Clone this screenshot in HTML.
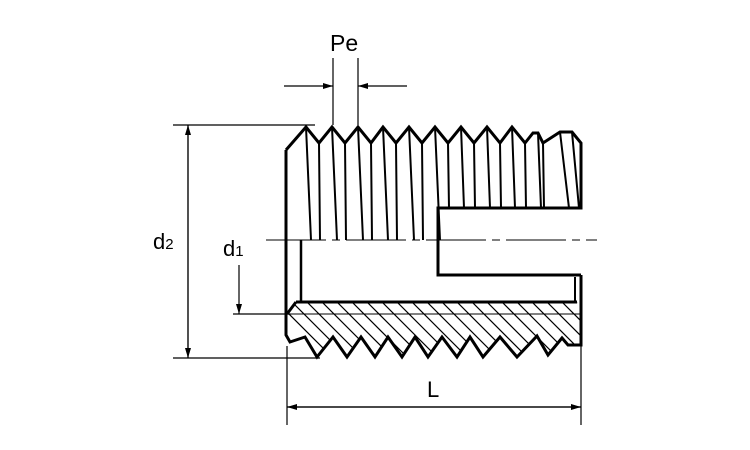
<!DOCTYPE html>
<html><head><meta charset="utf-8"><style>
html,body{margin:0;padding:0;background:#fff;width:750px;height:450px;overflow:hidden}
text{font-family:"Liberation Sans",sans-serif;fill:#000}
</style></head><body>
<svg width="750" height="450" viewBox="0 0 750 450" xmlns="http://www.w3.org/2000/svg">
<defs>
<clipPath id="hc"><polygon points="296,302 577,302 581,314 581,345 568,345 562,338 548,355 537,336 517,357 500,337 483,357 470,337 457,357 442,337 428,357 415,337 402,357 388,337 375,357 361,337 347,357 333,337 317,357 305,337 290,342 286,335 286,315"/></clipPath>
<marker id="a" viewBox="0 0 10 6" refX="10" refY="3" markerWidth="10" markerHeight="6" orient="auto" markerUnits="userSpaceOnUse"><path d="M0,0L10,3L0,6z" fill="#000"/></marker>
</defs>
<g stroke="#000" fill="none">
<g clip-path="url(#hc)" stroke-width="1.2">
<path d="M280,290l80,80M295,290l80,80M310,290l80,80M325,290l80,80M340,290l80,80M355,290l80,80M370,290l80,80M385,290l80,80M400,290l80,80M415,290l80,80M430,290l80,80M445,290l80,80M460,290l80,80M475,290l80,80M490,290l80,80M505,290l80,80M520,290l80,80M535,290l80,80M550,290l80,80M565,290l80,80M265,290l80,80"/>
</g>
<line x1="286" y1="314" x2="581" y2="314" stroke-width="1"/>
<polyline stroke-width="3" points="296,302 287,314"/>
<polyline stroke-width="3" stroke-linejoin="miter" points="286,150 286,335 290,342 305,337 317,357 333,337 347,357 361,337 375,357 388,337 402,357 415,337 428,357 442,337 457,357 470,337 483,357 500,337 517,357 537,336 548,355 562,338 568,345 581,345 581,275"/>
<polyline stroke-width="3" points="286,150 306,127 319,143 332,127 345,143 358,127 371,143 383,127 396,143 409,127 422,143 435,127 448,143 461,127 474,143 487,127 500,143 512,127 525,143 533,133 538,133 543,143 560,132 572,132 581,143 581,208 438,208 438,275 581,275"/>
<line x1="296" y1="302" x2="577" y2="302" stroke-width="3"/>
<line x1="301" y1="240" x2="301" y2="302" stroke-width="2.5"/>
<line x1="575" y1="277" x2="575" y2="302" stroke-width="2"/>
<g stroke-width="2">
<path d="M306,127L311,240M332,127L337,240M358,127L363,240M383,127L388,240M409,127L414,240M435,127L440,240M461,127L464,208M487,127L490,208M512,127L515,208M538,133L541,208M560,132L569,208M572,132L579,208"/>
<path d="M319,143L320,240M345,143L346,240M371,143L372,240M396,143L397,240M422,143L423,240M448,143L449,208M474,143L475,208M500,143L501,208M525,143L526,208M543,143L544,208"/>
</g>
<line x1="266" y1="240" x2="597" y2="240" stroke-width="1" stroke-dasharray="60,6,8,6"/>
<g stroke-width="1.2">
<line x1="333" y1="58" x2="333" y2="125"/><line x1="358" y1="58" x2="358" y2="125"/>
<line x1="284" y1="86" x2="333" y2="86" marker-end="url(#a)"/>
<line x1="407" y1="86" x2="358" y2="86" marker-end="url(#a)"/>
<line x1="173" y1="125" x2="315" y2="125"/>
<line x1="173" y1="358" x2="320" y2="358"/>
<line x1="188" y1="358" x2="188" y2="125" marker-end="url(#a)"/>
<line x1="188" y1="125" x2="188" y2="358" marker-end="url(#a)"/>
<line x1="233" y1="314" x2="290" y2="314"/>
<line x1="239" y1="265" x2="239" y2="314" marker-end="url(#a)"/>
<line x1="287" y1="346" x2="287" y2="425"/>
<line x1="581" y1="346" x2="581" y2="425"/>
<line x1="581" y1="407" x2="287" y2="407" marker-end="url(#a)"/>
<line x1="287" y1="407" x2="581" y2="407" marker-end="url(#a)"/>
</g>
</g>
<text x="330" y="51" font-size="23">Pe</text>
<text x="153" y="249" font-size="22">d<tspan font-size="15">2</tspan></text>
<text x="223" y="256" font-size="22">d<tspan font-size="15">1</tspan></text>
<text x="427" y="397" font-size="22">L</text>
</svg>
</body></html>
